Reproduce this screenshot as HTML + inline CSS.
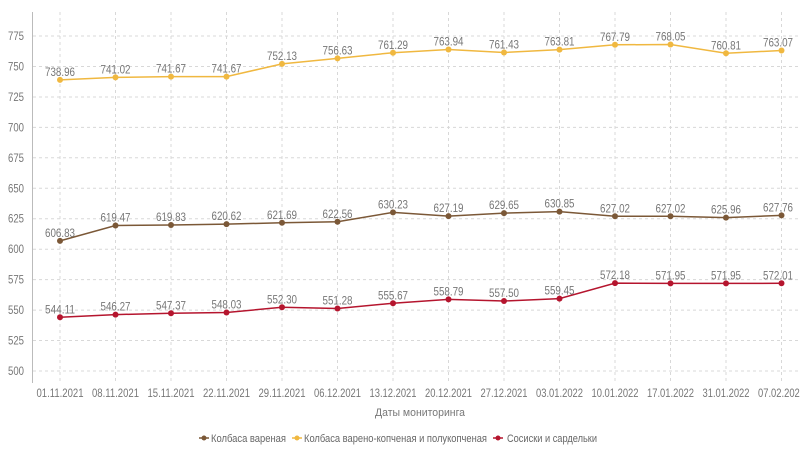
<!DOCTYPE html>
<html><head><meta charset="utf-8"><style>
html,body{margin:0;padding:0;background:#fff;width:800px;height:450px;overflow:hidden}
svg{display:block;font-family:"Liberation Sans",sans-serif}
.t{fill:#777;font-size:12px}
.g{stroke:#d8d8d8;stroke-width:1;stroke-dasharray:3,3}
</style></head><body>
<svg width="800" height="450" viewBox="0 0 800 450">
<g class="g">
<line x1="33" y1="36" x2="800" y2="36"/><line x1="33" y1="66.5" x2="800" y2="66.5"/><line x1="33" y1="97" x2="800" y2="97"/><line x1="33" y1="127.4" x2="800" y2="127.4"/><line x1="33" y1="157.8" x2="800" y2="157.8"/><line x1="33" y1="188.3" x2="800" y2="188.3"/><line x1="33" y1="218.7" x2="800" y2="218.7"/><line x1="33" y1="249.2" x2="800" y2="249.2"/><line x1="33" y1="279.6" x2="800" y2="279.6"/><line x1="33" y1="310.1" x2="800" y2="310.1"/><line x1="33" y1="340.5" x2="800" y2="340.5"/><line x1="33" y1="371" x2="800" y2="371"/>
<line x1="60" y1="12" x2="60" y2="382"/><line x1="115.5" y1="12" x2="115.5" y2="382"/><line x1="171" y1="12" x2="171" y2="382"/><line x1="226.5" y1="12" x2="226.5" y2="382"/><line x1="282" y1="12" x2="282" y2="382"/><line x1="337.5" y1="12" x2="337.5" y2="382"/><line x1="393" y1="12" x2="393" y2="382"/><line x1="448.5" y1="12" x2="448.5" y2="382"/><line x1="504" y1="12" x2="504" y2="382"/><line x1="559.5" y1="12" x2="559.5" y2="382"/><line x1="615" y1="12" x2="615" y2="382"/><line x1="670.5" y1="12" x2="670.5" y2="382"/><line x1="726" y1="12" x2="726" y2="382"/><line x1="781.5" y1="12" x2="781.5" y2="382"/>
</g>
<line x1="32.5" y1="12" x2="32.5" y2="383" stroke="#bbb" stroke-width="1"/>
<g class="t" text-anchor="end">
<text x="24" y="40" textLength="16" lengthAdjust="spacingAndGlyphs">775</text><text x="24" y="70.5" textLength="16" lengthAdjust="spacingAndGlyphs">750</text><text x="24" y="101" textLength="16" lengthAdjust="spacingAndGlyphs">725</text><text x="24" y="131.4" textLength="16" lengthAdjust="spacingAndGlyphs">700</text><text x="24" y="161.8" textLength="16" lengthAdjust="spacingAndGlyphs">675</text><text x="24" y="192.3" textLength="16" lengthAdjust="spacingAndGlyphs">650</text><text x="24" y="222.7" textLength="16" lengthAdjust="spacingAndGlyphs">625</text><text x="24" y="253.2" textLength="16" lengthAdjust="spacingAndGlyphs">600</text><text x="24" y="283.6" textLength="16" lengthAdjust="spacingAndGlyphs">575</text><text x="24" y="314.1" textLength="16" lengthAdjust="spacingAndGlyphs">550</text><text x="24" y="344.5" textLength="16" lengthAdjust="spacingAndGlyphs">525</text><text x="24" y="375" textLength="16" lengthAdjust="spacingAndGlyphs">500</text>
</g>
<g class="t" text-anchor="middle" font-size="11.5">
<text x="60" y="397" textLength="47" lengthAdjust="spacingAndGlyphs">01.11.2021</text><text x="115.5" y="397" textLength="47" lengthAdjust="spacingAndGlyphs">08.11.2021</text><text x="171" y="397" textLength="47" lengthAdjust="spacingAndGlyphs">15.11.2021</text><text x="226.5" y="397" textLength="47" lengthAdjust="spacingAndGlyphs">22.11.2021</text><text x="282" y="397" textLength="47" lengthAdjust="spacingAndGlyphs">29.11.2021</text><text x="337.5" y="397" textLength="47" lengthAdjust="spacingAndGlyphs">06.12.2021</text><text x="393" y="397" textLength="47" lengthAdjust="spacingAndGlyphs">13.12.2021</text><text x="448.5" y="397" textLength="47" lengthAdjust="spacingAndGlyphs">20.12.2021</text><text x="504" y="397" textLength="47" lengthAdjust="spacingAndGlyphs">27.12.2021</text><text x="559.5" y="397" textLength="47" lengthAdjust="spacingAndGlyphs">03.01.2022</text><text x="615" y="397" textLength="47" lengthAdjust="spacingAndGlyphs">10.01.2022</text><text x="670.5" y="397" textLength="47" lengthAdjust="spacingAndGlyphs">17.01.2022</text><text x="726" y="397" textLength="47" lengthAdjust="spacingAndGlyphs">31.01.2022</text><text x="781.5" y="397" textLength="47" lengthAdjust="spacingAndGlyphs">07.02.2022</text>
<text x="420" y="416" font-size="11" textLength="90" lengthAdjust="spacingAndGlyphs">Даты мониторинга</text>
</g>
<!-- yellow -->
<polyline fill="none" stroke="#f0b840" stroke-width="1.5" points="60,79.9 115.5,77.4 171,76.6 226.5,76.6 282,63.9 337.5,58.4 393,52.7 448.5,49.5 504,52.5 559.5,49.6 615,44.8 670.5,44.5 726,53.3 781.5,50.5"/>
<g fill="#f0b840"><circle cx="60" cy="79.9" r="3"/><circle cx="115.5" cy="77.4" r="3"/><circle cx="171" cy="76.6" r="3"/><circle cx="226.5" cy="76.6" r="3"/><circle cx="282" cy="63.9" r="3"/><circle cx="337.5" cy="58.4" r="3"/><circle cx="393" cy="52.7" r="3"/><circle cx="448.5" cy="49.5" r="3"/><circle cx="504" cy="52.5" r="3"/><circle cx="559.5" cy="49.6" r="3"/><circle cx="615" cy="44.8" r="3"/><circle cx="670.5" cy="44.5" r="3"/><circle cx="726" cy="53.3" r="3"/><circle cx="781.5" cy="50.5" r="3"/></g>
<g class="t" text-anchor="middle">
<text x="60" y="76" textLength="30" lengthAdjust="spacingAndGlyphs">738.96</text><text x="115.5" y="73.5" textLength="30" lengthAdjust="spacingAndGlyphs">741.02</text><text x="171" y="72.7" textLength="30" lengthAdjust="spacingAndGlyphs">741.67</text><text x="226.5" y="72.7" textLength="30" lengthAdjust="spacingAndGlyphs">741.67</text><text x="282" y="60" textLength="30" lengthAdjust="spacingAndGlyphs">752.13</text><text x="337.5" y="54.5" textLength="30" lengthAdjust="spacingAndGlyphs">756.63</text><text x="393" y="48.8" textLength="30" lengthAdjust="spacingAndGlyphs">761.29</text><text x="448.5" y="45.6" textLength="30" lengthAdjust="spacingAndGlyphs">763.94</text><text x="504" y="48.6" textLength="30" lengthAdjust="spacingAndGlyphs">761.43</text><text x="559.5" y="45.7" textLength="30" lengthAdjust="spacingAndGlyphs">763.81</text><text x="615" y="40.9" textLength="30" lengthAdjust="spacingAndGlyphs">767.79</text><text x="670.5" y="40.6" textLength="30" lengthAdjust="spacingAndGlyphs">768.05</text><text x="726" y="49.4" textLength="30" lengthAdjust="spacingAndGlyphs">760.81</text><text x="778" y="46.6" textLength="30" lengthAdjust="spacingAndGlyphs">763.07</text>
</g>
<!-- brown -->
<polyline fill="none" stroke="#7b5837" stroke-width="1.5" points="60,240.9 115.5,225.5 171,225 226.5,224.1 282,222.8 337.5,221.7 393,212.4 448.5,216.1 504,213.1 559.5,211.6 615,216.3 670.5,216.3 726,217.6 781.5,215.4"/>
<g fill="#7b5837"><circle cx="60" cy="240.9" r="3"/><circle cx="115.5" cy="225.5" r="3"/><circle cx="171" cy="225" r="3"/><circle cx="226.5" cy="224.1" r="3"/><circle cx="282" cy="222.8" r="3"/><circle cx="337.5" cy="221.7" r="3"/><circle cx="393" cy="212.4" r="3"/><circle cx="448.5" cy="216.1" r="3"/><circle cx="504" cy="213.1" r="3"/><circle cx="559.5" cy="211.6" r="3"/><circle cx="615" cy="216.3" r="3"/><circle cx="670.5" cy="216.3" r="3"/><circle cx="726" cy="217.6" r="3"/><circle cx="781.5" cy="215.4" r="3"/></g>
<g class="t" text-anchor="middle">
<text x="60" y="237" textLength="30" lengthAdjust="spacingAndGlyphs">606.83</text><text x="115.5" y="221.6" textLength="30" lengthAdjust="spacingAndGlyphs">619.47</text><text x="171" y="221.1" textLength="30" lengthAdjust="spacingAndGlyphs">619.83</text><text x="226.5" y="220.2" textLength="30" lengthAdjust="spacingAndGlyphs">620.62</text><text x="282" y="218.9" textLength="30" lengthAdjust="spacingAndGlyphs">621.69</text><text x="337.5" y="217.8" textLength="30" lengthAdjust="spacingAndGlyphs">622.56</text><text x="393" y="208.5" textLength="30" lengthAdjust="spacingAndGlyphs">630.23</text><text x="448.5" y="212.2" textLength="30" lengthAdjust="spacingAndGlyphs">627.19</text><text x="504" y="209.2" textLength="30" lengthAdjust="spacingAndGlyphs">629.65</text><text x="559.5" y="207.7" textLength="30" lengthAdjust="spacingAndGlyphs">630.85</text><text x="615" y="212.4" textLength="30" lengthAdjust="spacingAndGlyphs">627.02</text><text x="670.5" y="212.4" textLength="30" lengthAdjust="spacingAndGlyphs">627.02</text><text x="726" y="213.7" textLength="30" lengthAdjust="spacingAndGlyphs">625.96</text><text x="778" y="211.5" textLength="30" lengthAdjust="spacingAndGlyphs">627.76</text>
</g>
<!-- red -->
<polyline fill="none" stroke="#b5152e" stroke-width="1.5" points="60,317.3 115.5,314.6 171,313.3 226.5,312.5 282,307.3 337.5,308.5 393,303.2 448.5,299.4 504,301 559.5,298.6 615,283.1 670.5,283.4 726,283.4 781.5,283.3"/>
<g fill="#b5152e"><circle cx="60" cy="317.3" r="3"/><circle cx="115.5" cy="314.6" r="3"/><circle cx="171" cy="313.3" r="3"/><circle cx="226.5" cy="312.5" r="3"/><circle cx="282" cy="307.3" r="3"/><circle cx="337.5" cy="308.5" r="3"/><circle cx="393" cy="303.2" r="3"/><circle cx="448.5" cy="299.4" r="3"/><circle cx="504" cy="301" r="3"/><circle cx="559.5" cy="298.6" r="3"/><circle cx="615" cy="283.1" r="3"/><circle cx="670.5" cy="283.4" r="3"/><circle cx="726" cy="283.4" r="3"/><circle cx="781.5" cy="283.3" r="3"/></g>
<g class="t" text-anchor="middle">
<text x="60" y="313.4" textLength="30" lengthAdjust="spacingAndGlyphs">544.11</text><text x="115.5" y="310.7" textLength="30" lengthAdjust="spacingAndGlyphs">546.27</text><text x="171" y="309.4" textLength="30" lengthAdjust="spacingAndGlyphs">547.37</text><text x="226.5" y="308.6" textLength="30" lengthAdjust="spacingAndGlyphs">548.03</text><text x="282" y="303.4" textLength="30" lengthAdjust="spacingAndGlyphs">552.30</text><text x="337.5" y="304.6" textLength="30" lengthAdjust="spacingAndGlyphs">551.28</text><text x="393" y="299.3" textLength="30" lengthAdjust="spacingAndGlyphs">555.67</text><text x="448.5" y="295.5" textLength="30" lengthAdjust="spacingAndGlyphs">558.79</text><text x="504" y="297.1" textLength="30" lengthAdjust="spacingAndGlyphs">557.50</text><text x="559.5" y="294.7" textLength="30" lengthAdjust="spacingAndGlyphs">559.45</text><text x="615" y="279.2" textLength="30" lengthAdjust="spacingAndGlyphs">572.18</text><text x="670.5" y="279.5" textLength="30" lengthAdjust="spacingAndGlyphs">571.95</text><text x="726" y="279.5" textLength="30" lengthAdjust="spacingAndGlyphs">571.95</text><text x="778" y="279.4" textLength="30" lengthAdjust="spacingAndGlyphs">572.01</text>
</g>
<!-- legend -->
<g font-size="11" fill="#666">
<line x1="199" y1="438" x2="209" y2="438" stroke="#7b5837" stroke-width="1.5"/><circle cx="204" cy="438" r="2.5" fill="#7b5837"/>
<text x="211" y="442" textLength="75" lengthAdjust="spacingAndGlyphs">Колбаса вареная</text>
<line x1="292" y1="438" x2="302" y2="438" stroke="#f0b840" stroke-width="1.5"/><circle cx="297" cy="438" r="2.5" fill="#f0b840"/>
<text x="304" y="442" textLength="183" lengthAdjust="spacingAndGlyphs">Колбаса варено-копченая и полукопченая</text>
<line x1="493" y1="438" x2="503" y2="438" stroke="#b5152e" stroke-width="1.5"/><circle cx="498" cy="438" r="2.5" fill="#b5152e"/>
<text x="507" y="442" textLength="90" lengthAdjust="spacingAndGlyphs">Сосиски и сардельки</text>
</g>
</svg>
</body></html>
